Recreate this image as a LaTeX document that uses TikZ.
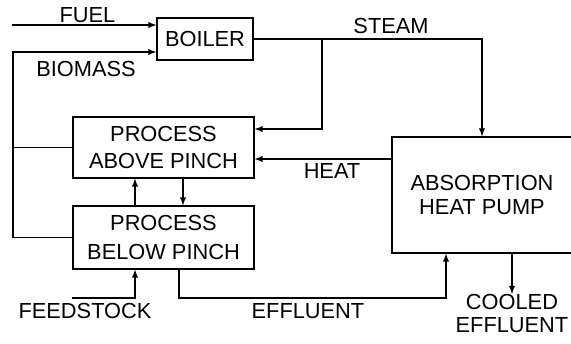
\documentclass[tikz,border=0pt]{standalone}
\usepackage{fontspec}
\setmainfont{Liberation Sans}

\begin{document}
\begin{tikzpicture}[x=1cm,y=1cm,>=latex,line width=0.6pt,
  every node/.style={font=\fontsize{12.4}{14}\selectfont},
  box/.style={draw,align=center,inner sep=0pt},
  lab/.style={inner sep=0pt,align=center}]
\useasboundingbox (0,0) rectangle (11.42,6.86);
% units
\node[box,minimum width=1.92cm,minimum height=0.84cm] (boiler) at (4.1,6.08) {BOILER};
\node[box,minimum width=3.62cm,minimum height=1.22cm,font=\fontsize{12.4}{15.5}\selectfont] (above) at (3.27,3.91) {PROCESS\\ABOVE PINCH};
\node[box,minimum width=3.62cm,minimum height=1.26cm,font=\fontsize{12.4}{16}\selectfont] (below) at (3.27,2.11) {PROCESS\\BELOW PINCH};
\node[box,minimum width=3.6cm,minimum height=2.32cm] (absorb) at (9.64,2.96) {ABSORPTION\\HEAT PUMP};
% ends of the streams
\coordinate (fuel) at (0.24,6.36);
\coordinate (bio) at (0.26,5.82);
\coordinate (split) at (6.44,6.08);
\coordinate (feed) at (1.44,0.9);
\coordinate (eff) at (8.92,0.9);
\node[lab,anchor=north,font=\fontsize{12.4}{13.2}\selectfont] (cooled) at (10.24,0.98) {COOLED\\EFFLUENT};
% streams
\draw[->] (fuel) -- (fuel -| boiler.west);
\draw[->] (below.west) -| (bio) -- (bio -| boiler.west);
\draw (above.west) -- (above.west -| bio);
\draw[->] (boiler.east) -| (absorb.north);
\draw[->] (split) |- ([yshift=0.37cm]above.east);
\draw[->] ([yshift=-0.23cm]above.east -| absorb.west) -- ([yshift=-0.23cm]above.east);
\draw[->] ([xshift=-0.57cm]below.north) -- ([xshift=-0.57cm]above.south);
\draw[->] ([xshift=0.39cm]above.south) -- ([xshift=0.39cm]below.south |- below.north);
\draw[->] (feed) -| ([xshift=-0.57cm]below.south);
\draw[->] ([xshift=0.31cm]below.south) |- (eff) -- (eff |- absorb.south);
\draw[->] ([xshift=0.6cm]absorb.south) -- (cooled.north);
% labels
\node[lab] (fuellab) at (1.75,6.56) {FUEL};
\node[lab] (biolab) at (1.72,5.48) {BIOMASS};
\node[lab] (steamlab) at (7.82,6.34) {STEAM};
\node[lab] (heatlab) at (6.64,3.44) {HEAT};
\node[lab] (feedlab) at (1.7,0.64) {FEEDSTOCK};
\node[lab] (efflab) at (6.16,0.64) {EFFLUENT};
\end{tikzpicture}
\end{document}
